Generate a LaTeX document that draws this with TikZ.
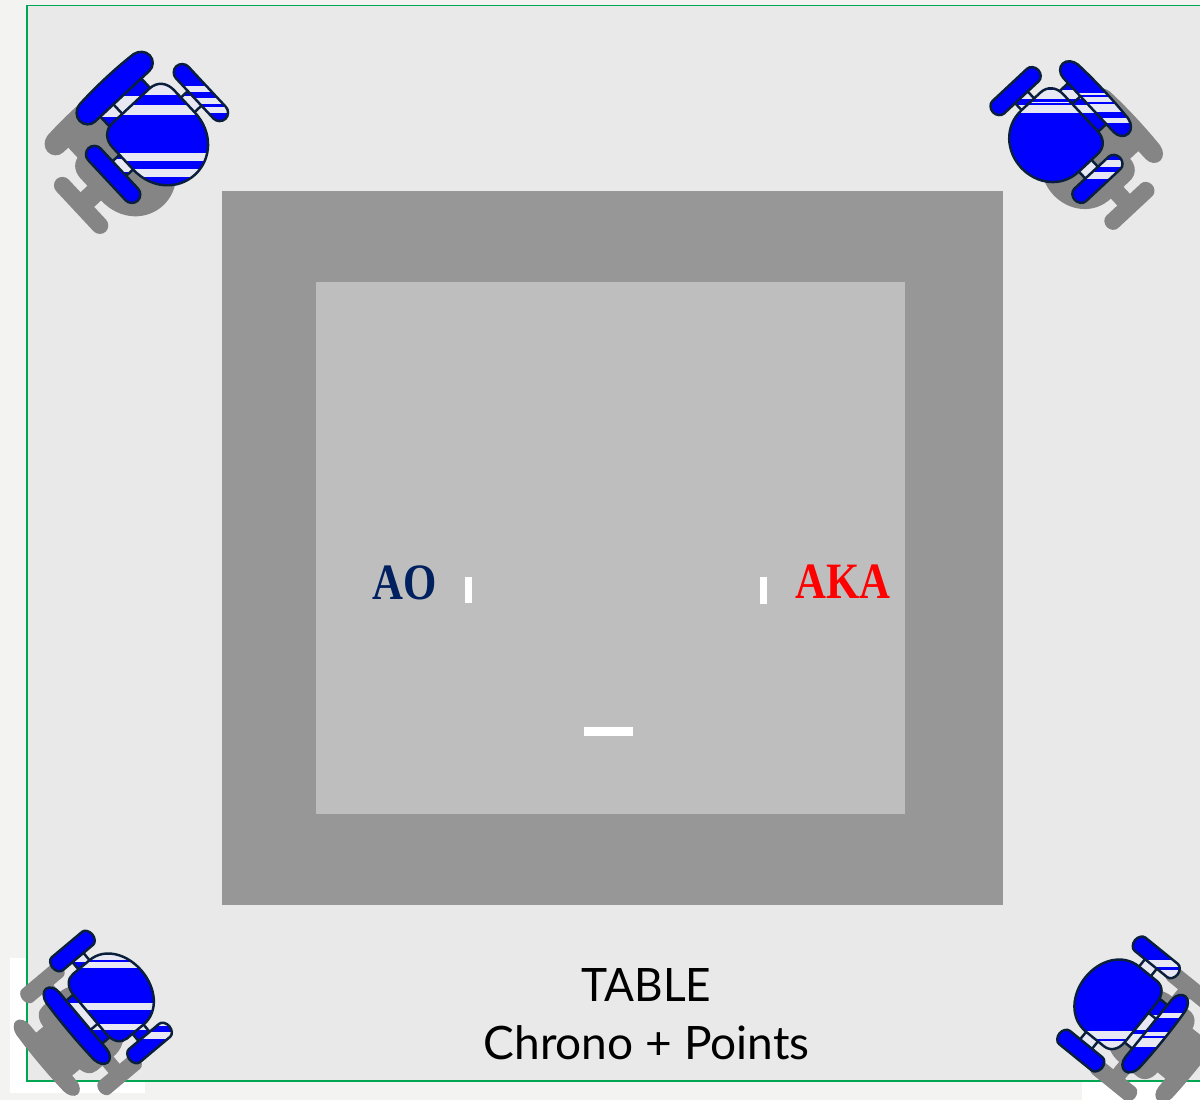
\documentclass[tikz,border=0pt]{standalone}
\usepackage{fontspec}
\usepackage{xcolor}
\setmainfont{Lato}
\newfontfamily\sidefont{Liberation Serif}
\definecolor{pagegray}{HTML}{F3F3F1}
\definecolor{panelgray}{HTML}{E9E9E9}
\definecolor{panelline}{HTML}{00A651}
\definecolor{matgray}{HTML}{979797}
\definecolor{areagray}{HTML}{BEBEBE}
\definecolor{aonavy}{HTML}{002060}
\definecolor{chairblue}{HTML}{0000FF}
\definecolor{chairedge}{HTML}{0A1F3C}
\definecolor{chairshade}{HTML}{858585}
\definecolor{stripewhite}{HTML}{E8E8F4}
\tikzset{
	edgeline/.style={draw=chairedge,line width=0.7pt},
	tickmark/.style={fill=white},
	sidelabel/.style={font=\sidefont\bfseries\fontsize{14.5}{16}\selectfont,xscale=0.84,inner sep=0pt},
	tablelabel/.style={font=\fontsize{13.1}{16}\selectfont,text=black,inner sep=0pt},
}
\newcommand{\chairseat}{(-25,-38) -- (25,-38) .. controls (36,-38) and (42,-30) .. (42,-20) -- (42,10) .. controls (42,38) and (22,56) .. (0,56) .. controls (-22,56) and (-42,38) .. (-42,10) -- (-42,-20) .. controls (-42,-30) and (-36,-38) .. (-25,-38) -- cycle}
\newcommand{\chairback}{(-37,-51) -- (37,-51) .. controls (43,-51) and (48,-56) .. (48,-62) .. controls (48,-68) and (43,-73) .. (37,-74) .. controls (15,-76) and (-15,-76) .. (-37,-74) .. controls (-43,-73) and (-48,-68) .. (-48,-62) .. controls (-48,-56) and (-43,-51) .. (-37,-51) -- cycle}
\newcommand{\chairarm}[1]{({#1-8.5},-27.5) -- ({#1-8.5},27.5) .. controls ({#1-8.5},32) and ({#1-4.5},36) .. (#1,36) .. controls ({#1+4.5},36) and ({#1+8.5},32) .. ({#1+8.5},27.5) -- ({#1+8.5},-27.5) .. controls ({#1+8.5},-32) and ({#1+4.5},-36) .. (#1,-36) .. controls ({#1-4.5},-36) and ({#1-8.5},-32) .. ({#1-8.5},-27.5) -- cycle}
\newcommand{\chairlinks}{(-30,-52) rectangle (-12,-36) (-12,-52) rectangle (26,-36) (40,-10) rectangle (53,10) (-53,-10) rectangle (-40,10)}
\newcommand{\chairparts}{\chairseat \chairback \chairarm{60} \chairarm{-60}}
\newcommand{\chairstripes}[1]{\begin{scope}[reset cm]
		\foreach \ya/\yb in {#1} {
			\fill[stripewhite] (0,\ya) rectangle (1200,\yb);
		}
	\end{scope}}
\newcommand{\chairunit}[6]{
	\fill[chairshade,shift={(#2)},#1] \chairlinks;
	\fill[chairshade,shift={(#2)},#1] \chairparts;
	\begin{scope}[#1]
		\fill[chairblue] \chairlinks;
		\begin{scope}
			\clip \chairlinks;
			\chairstripes{#3}
		\end{scope}
		\draw[edgeline] \chairlinks;
		\fill[chairblue] \chairparts;
		\begin{scope}
			\clip \chairseat;
			\chairstripes{#4}
		\end{scope}
		\begin{scope}
			\clip #5;
			\chairstripes{#6}
		\end{scope}
		\draw[edgeline] \chairparts;
	\end{scope}
}

\begin{document}
\begin{tikzpicture}[x=0.1mm,y=-0.1mm]
	\useasboundingbox (0,0) rectangle (1200,1100);
	\fill[pagegray] (0,0) rectangle (1200,1100);
	\fill[white] (10,958) rectangle (145,1093);
	\fill[white] (1082,1081) rectangle (1200,1100);
	\fill[panelgray] (27,5.5) rectangle (1210,1081);
	\draw[panelline,line width=0.35pt] (1210,5.5) -- (27,5.5) -- (27,1081) -- (1210,1081);
	\fill[matgray] (222,191) rectangle (1003,905);
	\fill[areagray] (316,282) rectangle (905,814);
	\fill[tickmark] (465,577) rectangle (472,603);
	\fill[tickmark] (760,577) rectangle (767,604);
	\fill[tickmark] (584,727) rectangle (633,736);
	\node[sidelabel,text=aonavy] (ao) at (405,583) {AO};
	\node[sidelabel,text=red] (aka) at (843,582) {AKA};
	\node[tablelabel,xscale=0.96] (table) at (646.5,985) {TABLE};
	\node[tablelabel] (chrono) at (646.5,1043) {Chrono + Points};
	\chairunit{shift={(157,133.5)},rotate=43}{-32,31}{96/117,159/172}{83/95,105/115,153/161.5,169/177}{\chairarm{60}}{86/92,98/104.5,107/113}
	\chairunit{shift={(1056.5,135)},rotate=-47,yscale=0.86}{32,27}{90/99,105/113,158/180}{90/99,102/103.5,105/113}{\chairback \chairarm{60}}{93/95,97/102,104/112,118/123,160/167,172/179}
	\chairunit{shift={(111,997)},rotate=130,yscale=0.72}{-30,32}{952/962,1003/1030}{955/960,962/968,1003/1010,1024/1030}{\chairarm{-60}}{1023/1026,1032/1039}
	\chairunit{shift={(1118.5,1004)},rotate=231,yscale=0.76}{33,30}{960/975,1015/1030,1034/1048}{1031/1039,1041/1048}{\chairback \chairarm{-60}}{960/967,970/978,1013/1018,1032/1036,1038/1047}
\end{tikzpicture}
\end{document}
